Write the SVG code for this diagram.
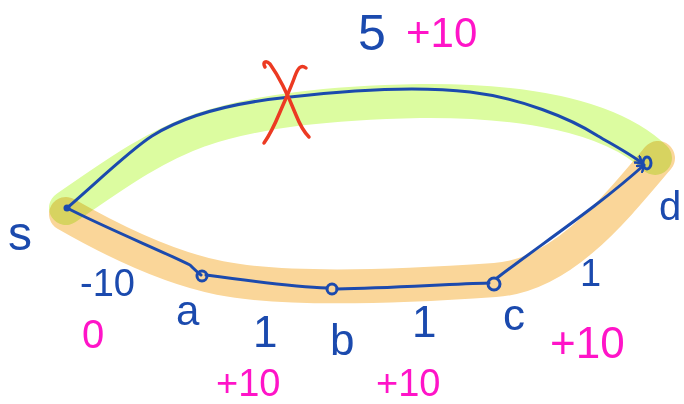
<svg xmlns="http://www.w3.org/2000/svg" width="684" height="404" viewBox="0 0 684 404">
<style>
.hl{fill:none;stroke-linecap:round;stroke-linejoin:round;mix-blend-mode:multiply}
.ink{fill:none;stroke:#1b4aae;stroke-width:3;stroke-linecap:round;stroke-linejoin:round}
.red{fill:none;stroke:#ec3a22;stroke-width:3.5;stroke-linecap:round;stroke-linejoin:round}
.b{fill:#1b4aae;font-family:"Liberation Sans",sans-serif}
.m{fill:#ff14c8;font-family:"Liberation Sans",sans-serif}
</style>
<defs>
<marker id="ah" markerWidth="10" markerHeight="10" refX="7" refY="5" orient="auto" markerUnits="userSpaceOnUse">
<path d="M1,1 L7,5 L1,9" fill="none" stroke="#1b4aae" stroke-width="2.5" stroke-linecap="round" stroke-linejoin="round"/>
</marker>
</defs>
<g id="highlights">
<path class="hl" stroke="#dcfca0" stroke-width="34" d="M66,208 C110,178 150,148 200,130 C260,110 330,103 420,101 C520,100 610,115 655,158"/>
<path class="hl" stroke="#fad699" stroke-width="34" d="M66,214 C120,245 170,268 220,278 C280,290 380,288 495,280 C560,276 610,215 658,158"/>
</g>
<g id="connectors">
<path class="ink" marker-end="url(#ah)" d="M67,208 C95,184 130,150 152,136 C190,112 240,102 290,97 C350,90 420,86 470,92 C520,98 570,118 598,136 C615,146 630,154 642,163"/>
<path class="ink" d="M67,208 C110,230 160,250 190,265 C195,270 197,272 201,275"/>
<path class="ink" d="M206,275 C250,281 300,287 327,288"/>
<path class="ink" d="M337,289 C390,288 450,284 489,283"/>
<path class="ink" marker-end="url(#ah)" d="M497,278 C540,245 600,205 644,165"/>
</g>
<g id="cross">
<path class="red" d="M265,67 C262,62 266,60 270,64 C280,78 290,100 296,115 C300,125 304,132 309,137"/>
<path class="red" d="M306,68 C301,64 298,68 295,76 C290,90 285,100 280,112 C275,124 269,136 264,143"/>
</g>
<g id="node-s"><circle cx="67" cy="208" r="3.5" fill="#1b4aae"/><text class="b" x="8" y="250" font-size="48">s</text></g>
<g id="node-a"><circle class="ink" cx="202" cy="276" r="5" stroke-width="2.5"/><text class="b" x="176" y="325" font-size="42">a</text></g>
<g id="node-b"><circle class="ink" cx="332" cy="289" r="5" stroke-width="2.5"/><text class="b" x="330" y="355" font-size="44">b</text></g>
<g id="node-c"><circle class="ink" cx="494" cy="284" r="6" stroke-width="2.5"/><text class="b" x="503" y="330" font-size="44">c</text></g>
<g id="node-d"><ellipse class="ink" cx="647" cy="163" rx="4" ry="6" stroke-width="2.5"/><text class="b" x="659" y="220" font-size="40">d</text></g>
<g id="labels">
<text class="b" x="358" y="50" font-size="50">5</text>
<text class="m" x="406" y="47" font-size="42">+10</text>
<text class="b" x="80" y="296" font-size="38">-10</text>
<text class="m" x="82" y="348" font-size="40">0</text>
<text class="b" x="253" y="347" font-size="44">1</text>
<text class="m" x="216" y="396" font-size="38">+10</text>
<text class="b" x="412" y="337" font-size="44">1</text>
<text class="m" x="376" y="396" font-size="38">+10</text>
<text class="b" x="580" y="286" font-size="38">1</text>
<text class="m" x="550" y="358" font-size="44">+10</text>
</g>
</svg>
